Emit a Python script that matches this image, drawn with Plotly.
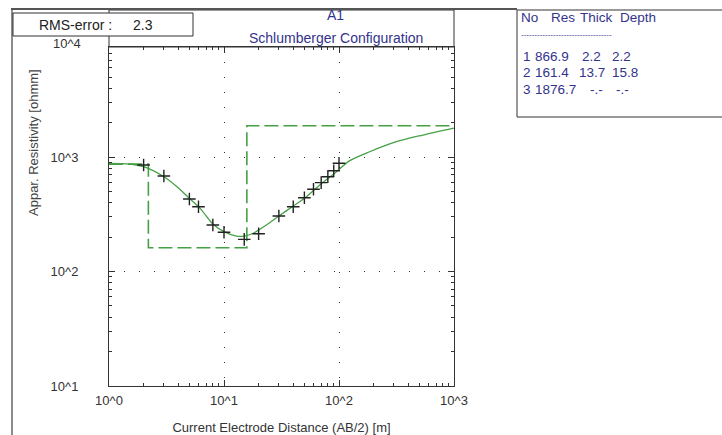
import plotly.graph_objects as go

# ---------------- data ----------------
# measured sounding points (AB/2 [m], apparent resistivity [ohmm])
meas_ab2 = [2, 3, 5, 6, 8, 10, 15, 20, 30, 40, 50, 60, 70, 80, 90, 100]
meas_rho = [851, 682, 430, 368, 255, 220, 191, 214, 305, 368, 441, 523, 597, 673, 759, 881]

# calculated (model response) curve
curve_ab2 = [1.0, 1.5, 2.0, 3.0, 3.9, 5.0, 6.2, 8.0, 10, 12.8, 15, 18, 23.4, 30, 40,
             50, 68, 95, 124, 185, 315, 536, 1000]
curve_rho = [880, 869, 823, 673, 551, 436, 356, 260, 223, 204, 204, 216, 255, 305, 373,
             436, 569, 745, 930, 1112, 1360, 1556, 1790]

# layered model
layer_no = [1, 2, 3]
layer_res = [866.9, 161.4, 1876.7]
layer_thick = [2.2, 13.7, None]
layer_depth = [2.2, 15.8, None]

x_tick_vals = [1, 10, 100, 1000]
x_tick_text = ["10^0", "10^1", "10^2", "10^3"]
y_tick_vals = [10, 100, 1000]
y_tick_text = ["10^1", "10^2", "10^3"]

rms_error = 2.3
title_line1 = "A1"
title_line2 = "Schlumberger Configuration"
x_title = "Current Electrode Distance (AB/2) [m]"
y_title = "Appar. Resistivity [ohmm]"

# ---------------- layout geometry ----------------
L, T, W, H = 109, 47, 345, 339
FW, FH = 722, 435


def pxx(x):
    return (x - L) / W


def pxy(y):
    return (T + H - y) / H


# model step line built from the layer table
step_x = [1]
step_y = [layer_res[0]]
for i, d in enumerate(layer_depth):
    if d is None:
        continue
    step_x += [d, d]
    step_y += [layer_res[i], layer_res[i + 1]]
step_x.append(1000)
step_y.append(layer_res[-1])

green = "#46a046"
fig = go.Figure()
fig.add_trace(go.Scatter(x=step_x, y=step_y, mode="lines",
                         line=dict(color=green, width=1.6, dash="14px,5px"),
                         hoverinfo="skip"))
fig.add_trace(go.Scatter(x=curve_ab2, y=curve_rho, mode="lines",
                         line=dict(color=green, width=1.3, shape="spline", smoothing=0.8)))
fig.add_trace(go.Scatter(x=meas_ab2, y=meas_rho, mode="markers",
                         marker=dict(symbol="cross-thin", size=9,
                                     line=dict(color="#222", width=1.4))))

minor_x = [m * 10 ** k for k in range(3) for m in range(2, 10)]
minor_y = [m * 10 ** k for k in range(1, 4) for m in range(2, 10)]

axis_common = dict(
    type="log", showline=True, linecolor="#333", linewidth=1, mirror="allticks",
    ticks="inside", ticklen=6, tickcolor="#333", tickwidth=1,
    showgrid=True, gridcolor="#333", gridwidth=1.2, griddash="1px,14px",
    zeroline=False, tickfont=dict(size=13, color="#333"), automargin=False,
)

fig.update_xaxes(
    **axis_common, range=[0, 3], tickmode="array", tickvals=x_tick_vals, ticktext=x_tick_text,
    minor=dict(tickvals=minor_x, ticks="inside", ticklen=3, tickcolor="#333", showgrid=False),
    ticklabelstandoff=2,
    title=dict(text=x_title, font=dict(size=13, color="#333"), standoff=16),
)
fig.update_yaxes(
    **axis_common, range=[1, 3.961], tickmode="array", tickvals=y_tick_vals, ticktext=y_tick_text,
    minor=dict(tickvals=minor_y, ticks="inside", ticklen=3, tickcolor="#333", showgrid=False),
    ticklabelstandoff=27,
)

shapes = [
    # outer panel borders
    dict(type="line", xref="paper", yref="paper", x0=pxx(12), x1=pxx(12), y0=pxy(9), y1=pxy(FH),
         line=dict(color="#8c8c8c", width=2)),
    dict(type="line", xref="paper", yref="paper", x0=pxx(11), x1=pxx(517), y0=pxy(9), y1=pxy(9),
         line=dict(color="#555", width=2)),
    # title box
    dict(type="rect", xref="paper", yref="paper", x0=pxx(L), x1=pxx(L + W), y0=pxy(10), y1=pxy(T),
         line=dict(color="#333", width=1), fillcolor="white", layer="below"),
    # RMS box
    dict(type="rect", xref="paper", yref="paper", x0=pxx(13), x1=pxx(193), y0=pxy(13), y1=pxy(36),
         line=dict(color="#333", width=1), fillcolor="white"),
    # table box
    dict(type="rect", xref="paper", yref="paper", x0=pxx(517), x1=pxx(723), y0=pxy(10), y1=pxy(117),
         line=dict(color="#333", width=1), fillcolor="white"),
]

navy = "#33338c"
ann = []


def text(x, y, s, color="#222", size=13.5, xanchor="left", angle=0):
    ann.append(dict(xref="paper", yref="paper", x=pxx(x), y=pxy(y), text=s, showarrow=False,
                    xanchor=xanchor, yanchor="middle", textangle=angle,
                    font=dict(size=size, color=color)))


text(114, 25, "RMS-error :", "#222", 14, "right")
text(131, 25, f"{rms_error}", "#222", 14, "left")
text(335, 15, title_line1, navy, 14, "center")
text(336, 38, title_line2, navy, 14, "center")
# 10^4 label (top decade of the axis lies just above the frame)
text(83, 43, "10^4", "#333", 13, "right")
# y axis title (placed higher than the plot centre, as in the original)
text(33, 143, y_title, "#444", 13, "center", -90)

# table
text(519, 17, "No", navy)
text(549, 17, "Res", navy)
text(578, 17, "Thick", navy)
text(618, 17, "Depth", navy)
text(519, 34, "-" * 34, navy, 8)
row_y = [57, 73, 89]
for i in range(len(layer_no)):
    ry = row_y[i]
    text(521, ry, str(layer_no[i]), navy)
    text(533, ry, f"{layer_res[i]:.1f}", navy)
    th = layer_thick[i]
    dp = layer_depth[i]
    text(580 if th is not None and th < 10 else (577 if th is not None else 588), ry,
         f"{th:.1f}" if th is not None else "-.-", navy)
    text(610 if dp is not None else 614, ry, f"{dp:.1f}" if dp is not None else "-.-", navy)

fig.update_layout(
    width=FW, height=FH, margin=dict(l=L, r=FW - L - W, t=T, b=FH - T - H, pad=0,
                                     autoexpand=False),
    paper_bgcolor="white", plot_bgcolor="white", showlegend=False,
    font=dict(family="Liberation Sans, Arial, sans-serif", size=13, color="#333"),
    shapes=shapes, annotations=ann,
)

fig.write_html("out.html", config={"displayModeBar": False},
               post_script="document.body.style.margin='0px';")
